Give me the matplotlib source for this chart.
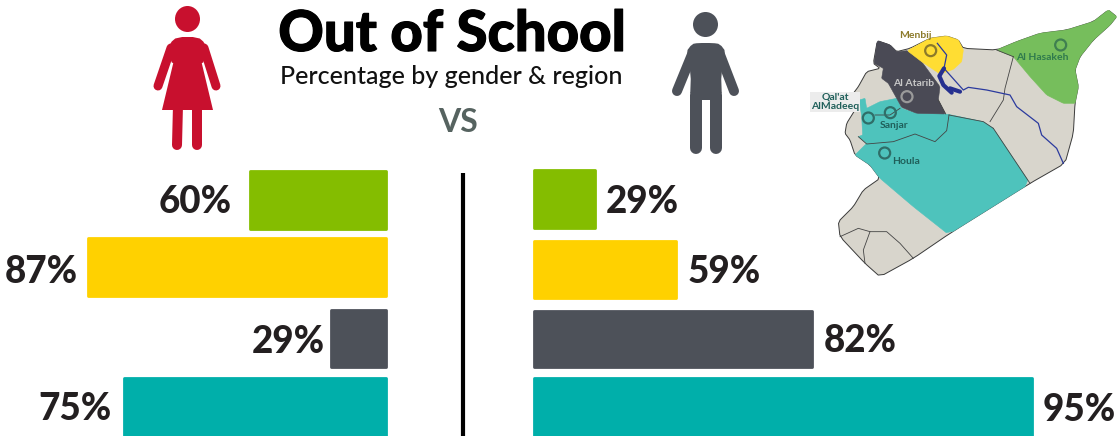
import matplotlib
matplotlib.use("Agg")
import matplotlib.pyplot as plt
from matplotlib.patches import Polygon, Circle, Ellipse
import matplotlib.patheffects as pe
import numpy as np

# ---- data ----
regions = ["Al Hasakeh", "Menbij", "Al Atarib", "Houla / Sanjar / Qal'at AlMadeeq"]
female_pct = [60, 87, 29, 75]
male_pct = [29, 59, 82, 95]
# drawn bar lengths as they appear in the graphic (not proportional to the labels)
female_len = [138, 300, 57, 264]
male_len = [63, 144, 280, 500]
colors = ["#84BD00", "#FFD100", "#4D5159", "#00AFAA"]
title = "Out of School"
subtitle = "Percentage by gender & region"

fig = plt.figure(figsize=(11.18, 4.36), dpi=100)
ax = fig.add_axes([0, 0, 1, 1])
ax.set_xlim(0, 1118)
ax.set_ylim(436, 0)
ax.axis("off")
FONT = "Lato"

# ---- bars ----
L0, R0 = 387, 533
ly = [200, 267, 338, 407]
ry = [199, 269.5, 339, 407]
lh = [60, 60, 59, 60]
rh = [60, 59, 58, 60]
lab_l = [232, 78, 325, 112]
lab_r = [606, 688, 824, 1043]
laby_l = [202, 272, 342, 409]
laby_r = [202, 272, 341, 410]
for i in range(4):
    ax.barh(ly[i], -female_len[i] + 2, left=L0 - 1, height=lh[i] - 2, color=colors[i],
            edgecolor=colors[i], linewidth=2, joinstyle="round", zorder=2)
    ax.barh(ry[i], male_len[i] - 2, left=R0 + 1, height=rh[i] - 2, color=colors[i],
            edgecolor=colors[i], linewidth=2, joinstyle="round", zorder=2)
    ax.text(lab_l[i], laby_l[i], f"{female_pct[i]}%", ha="right", va="center",
            fontsize=26.5, fontweight="black", family=FONT, color="#231F20", zorder=4)
    ax.text(lab_r[i], laby_r[i], f"{male_pct[i]}%", ha="left", va="center",
            fontsize=26.5, fontweight="black", family=FONT, color="#231F20", zorder=4)

ax.plot([462.5, 462.5], [173, 436], color="black", lw=3, solid_capstyle="butt", zorder=3)

# ---- headings ----
ax.text(452, 35, title, ha="center", va="center", fontsize=40.5, fontweight="black",
        family=FONT, color="black",
        path_effects=[pe.withStroke(linewidth=0.8, foreground="black")])
ax.text(451, 77, subtitle, ha="center", va="center", fontsize=18, family=FONT,
        fontweight="medium", color="#111111")
ax.text(458, 122, "VS", ha="center", va="center", fontsize=23, family=FONT,
        fontweight="bold", color="#566360")

# ---- person icons ----
RED, DARK = "#C8102E", "#4D5159"

def limb(p, q, w, c):
    ax.plot([p[0], q[0]], [p[1], q[1]], color=c, lw=w * 0.72, solid_capstyle="round", zorder=2)

def chaikin(pts, n=1, r=0.25):
    a = np.array(pts, float)
    for _ in range(n):
        b = np.roll(a, -1, axis=0)
        a = np.column_stack([(1 - r) * a + r * b, r * a + (1 - r) * b]).reshape(-1, 2)
    return a

# woman
ax.add_patch(Ellipse((187.5, 19), 25, 26, color=RED, lw=0))
ax.add_patch(Polygon(chaikin([(170, 43), (177, 37), (198, 37), (205, 43), (207, 52), (202, 66),
                              (173, 66), (168, 52)], 1),
                     closed=True, color=RED, lw=0))
ax.add_patch(Polygon([(174, 60), (201, 60), (213, 110), (162, 110)], closed=True, color=RED, lw=0))
limb((171, 48), (158, 86), 9, RED)
limb((204, 48), (216, 86), 9, RED)
limb((178, 105), (177, 145), 10, RED)
limb((197, 105), (197, 145), 10, RED)

# man
ax.add_patch(Ellipse((705.5, 24.5), 25, 25, color=DARK, lw=0))
ax.add_patch(Polygon(chaikin([(686, 52), (692, 44), (698, 43), (713, 43), (720, 44), (726, 52),
                              (721, 72), (722, 100), (690, 100), (691, 72)], 1),
                     closed=True, color=DARK, lw=0))
limb((693, 52), (677, 91), 10, DARK)
limb((719, 52), (734, 91), 10, DARK)
limb((696, 95), (696, 148), 12, DARK)
limb((716, 95), (716, 148), 12, DARK)

# ---- map ----
def mp(pts):
    a = np.array(pts, float) / 3.0
    a[:, 0] += 800
    return a

GREY, TEAL, MDK, MYL, MGR = "#D8D5CC", "#4EC3BC", "#4A4A55", "#FFDD33", "#76BE5C"
outline = [(232,122),(270,135),(290,155),(330,145),(390,115),(440,108),(475,120),(490,145),
           (590,150),(650,125),(720,100),(800,90),(880,65),(925,30),(950,50),(930,75),(880,120),
           (840,170),(825,210),(835,260),(825,310),(820,400),(795,490),(690,550),(450,700),
           (340,775),(240,830),(195,790),(120,710),(115,665),(160,620),(190,570),(240,535),
           (210,495),(165,465),(150,420),(135,400),(140,370),(165,330),(160,280),(175,260),
           (200,215),(240,205),(220,190)]
teal = [(175,410),(188,405),(185,350),(178,300),(195,295),(200,325),(240,305),(290,295),(305,325),
        (350,340),(440,342),(550,365),(580,385),(690,550),(445,703),(340,620),(240,535),(210,495),
        (165,465),(200,430)]
dark = [(232,122),(270,135),(290,155),(322,152),(365,185),(420,260),(415,300),(437,342),(350,340),
        (305,322),(290,295),(265,250),(245,235),(250,205),(222,190)]
yellow = [(322,152),(390,115),(440,108),(475,120),(490,150),(485,185),(460,208),(420,222),(365,185)]
green = [(590,150),(650,125),(720,100),(800,90),(880,65),(925,30),(950,50),(930,75),(880,120),
         (840,170),(825,210),(835,260),(825,310),(790,310),(740,285),(690,230),(640,170)]
ax.add_patch(Polygon(chaikin(mp(outline), 1, 0.12), closed=True, facecolor=GREY,
                     edgecolor="#3a3a3a", lw=0.7, zorder=2))
for pts, c in [(teal, TEAL), (dark, MDK), (yellow, MYL), (green, MGR)]:
    ax.add_patch(Polygon(chaikin(mp(pts), 1, 0.06), closed=True, facecolor=c, edgecolor=c, lw=0.4,
                         zorder=2))

borders = [
    [(175,410),(200,432),(280,425),(345,402),(405,425),(440,392),(447,345)],
    [(640,170),(615,265),(610,300),(570,365)],
    [(580,385),(690,550)],
    [(447,345),(550,365),(580,385)],
    [(120,710),(175,685),(210,695),(260,695),(300,730),(340,775)],
    [(210,695),(190,750),(195,790)],
    [(225,345),(270,345),(300,325)],
    [(415,300),(437,342)],
    [(590,150),(640,170)],
]
for b in borders:
    a = mp(b)
    ax.plot(a[:, 0], a[:, 1], color="#444444", lw=0.6, zorder=3)

river = mp([(412,130),(440,165),(432,205),(490,270),(505,262),(560,270),(630,285),(650,320),
            (715,370),(725,405),(770,445),(790,490)])
ax.plot(river[:, 0], river[:, 1], color="#2B3A9E", lw=0.9, zorder=3)
lake = mp([(432,205),(418,228),(430,255),(455,278)])
ax.plot(lake[:, 0], lake[:, 1], color="#26308F", lw=3, zorder=3, solid_capstyle="round")
lake2 = mp([(450,265),(480,275)])
ax.plot(lake2[:, 0], lake2[:, 1], color="#26308F", lw=3, zorder=3, solid_capstyle="round")

def ring(zx, zy, c, r=5.5):
    x, y = mp([(zx, zy)])[0]
    ax.add_patch(Circle((x, y), r, fill=False, edgecolor=c, lw=1.6, zorder=4))

ring(392, 152, "#8C7A2A")
ring(782, 135, "#3F7F50")
ring(321, 290, "#9A9A9A")
ring(205, 354, "#2F6E68")
ring(271, 338, "#2F6E68")
ring(254, 459, "#2F6E68")

def label(zx, zy, s, c, ha="center", bg=None):
    x, y = mp([(zx, zy)])[0]
    t = ax.text(x, y, s, ha=ha, va="center", fontsize=7.5, fontweight="bold", family=FONT,
                color=c, zorder=5, linespacing=1.1)
    if bg:
        t.set_bbox(dict(facecolor=bg, edgecolor="none", pad=0.8))

label(346, 106, "Menbij", "#8C7A2A")
label(728, 171, "Al Hasakeh", "#2F7A4D")
label(342, 251, "Al Atarib", "#C8C8C8")
label(282, 376, "Sanjar", "#1F5F5A")
label(317, 484, "Houla", "#1F5F5A")
label(105, 306, "Qal'at\nAlMadeeq", "#1F5F5A", bg="#ECECEC")

fig.savefig("out.png", dpi=100, facecolor="white")
